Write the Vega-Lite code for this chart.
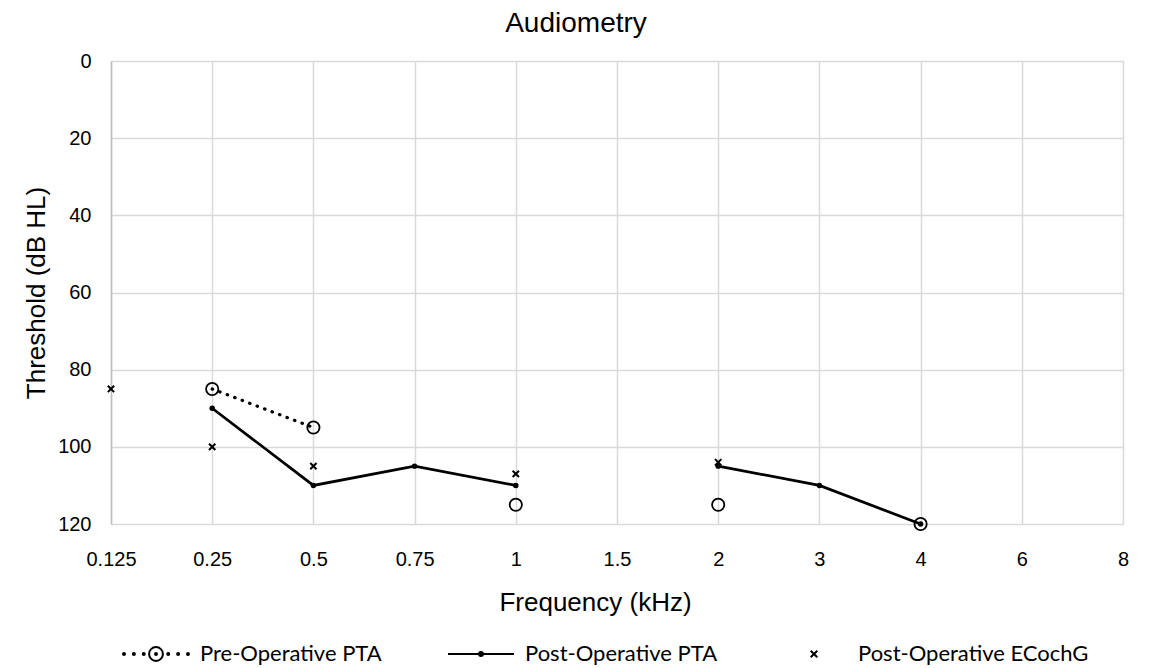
{
  "$schema": "https://vega.github.io/schema/vega-lite/v6.json",
  "width": 1012,
  "height": 463,
  "autosize": {"type": "none"},
  "padding": {"left": 111, "top": 61, "right": 44, "bottom": 144},
  "background": "white",
  "title": {
    "text": "Audiometry",
    "font": "Liberation Sans",
    "fontSize": 28,
    "fontWeight": "normal",
    "color": "black",
    "anchor": "middle",
    "baseline": "alphabetic",
    "dx": -41,
    "offset": -9
  },
  "data": {
    "values": [
      {"series": "Pre-Operative PTA", "freq": "0.25", "db": 85, "seg": "p1"},
      {"series": "Pre-Operative PTA", "freq": "0.5", "db": 95, "seg": "p1"},
      {"series": "Pre-Operative PTA", "freq": "1", "db": 115, "seg": "p2"},
      {"series": "Pre-Operative PTA", "freq": "2", "db": 115, "seg": "p3"},
      {"series": "Pre-Operative PTA", "freq": "4", "db": 120, "seg": "p4"},
      {"series": "Post-Operative PTA", "freq": "0.25", "db": 90, "seg": "q1"},
      {"series": "Post-Operative PTA", "freq": "0.5", "db": 110, "seg": "q1"},
      {"series": "Post-Operative PTA", "freq": "0.75", "db": 105, "seg": "q1"},
      {"series": "Post-Operative PTA", "freq": "1", "db": 110, "seg": "q1"},
      {"series": "Post-Operative PTA", "freq": "2", "db": 105, "seg": "q2"},
      {"series": "Post-Operative PTA", "freq": "3", "db": 110, "seg": "q2"},
      {"series": "Post-Operative PTA", "freq": "4", "db": 120, "seg": "q2"},
      {"series": "Post-Operative ECochG", "freq": "0.125", "db": 85, "seg": "e1"},
      {"series": "Post-Operative ECochG", "freq": "0.25", "db": 100, "seg": "e1"},
      {"series": "Post-Operative ECochG", "freq": "0.5", "db": 105, "seg": "e1"},
      {"series": "Post-Operative ECochG", "freq": "1", "db": 107, "seg": "e1"},
      {"series": "Post-Operative ECochG", "freq": "2", "db": 104, "seg": "e1"}
    ]
  },
  "encoding": {
    "x": {
      "field": "freq",
      "type": "ordinal",
      "scale": {
        "type": "point",
        "padding": 0,
        "domain": ["0.125", "0.25", "0.5", "0.75", "1", "1.5", "2", "3", "4", "6", "8"]
      },
      "axis": {
        "title": "Frequency (kHz)",
        "titleFont": "Liberation Sans",
        "titleFontSize": 26,
        "titleFontWeight": "normal",
        "titleColor": "black",
        "titlePadding": 20,
        "titleX": 484,
        "labelFont": "Liberation Sans",
        "labelFontSize": 20,
        "labelColor": "black",
        "labelAngle": 0,
        "labelPadding": 25,
        "labelDx": 3,
        "ticks": false,
        "tickSize": 0,
        "domain": false,
        "grid": true,
        "gridColor": "#d9d9d9",
        "gridWidth": 1.5
      }
    },
    "y": {
      "field": "db",
      "type": "quantitative",
      "scale": {"domain": [0, 120], "reverse": true, "nice": false, "zero": false},
      "axis": {
        "title": "Threshold (dB HL)",
        "titleFont": "Liberation Sans",
        "titleFontSize": 26,
        "titleFontWeight": "normal",
        "titleColor": "black",
        "titlePadding": 8,
        "values": [0, 20, 40, 60, 80, 100, 120],
        "labelFont": "Liberation Sans",
        "labelFontSize": 20,
        "labelColor": "black",
        "labelPadding": 20,
        "ticks": false,
        "tickSize": 0,
        "domain": true,
        "domainColor": "#bfbfbf",
        "domainWidth": 1.5,
        "grid": true,
        "gridColor": "#d9d9d9",
        "gridWidth": 1.5
      }
    }
  },
  "layer": [
    {
      "transform": [{"filter": "datum.series === 'Post-Operative PTA'"}],
      "mark": {"type": "line", "color": "black", "strokeWidth": 2.75},
      "encoding": {"detail": {"field": "seg"}}
    },
    {
      "transform": [{"filter": "datum.series === 'Post-Operative PTA'"}],
      "mark": {"type": "point", "shape": "circle", "filled": true, "color": "black", "size": 30, "opacity": 1}
    },
    {
      "transform": [{"filter": "datum.series === 'Pre-Operative PTA'"}],
      "mark": {"type": "line", "color": "black", "strokeWidth": 3.2, "strokeDash": [0.5, 7.5], "strokeCap": "round"},
      "encoding": {"detail": {"field": "seg"}}
    },
    {
      "transform": [{"filter": "datum.series === 'Pre-Operative PTA'"}],
      "mark": {"type": "point", "shape": "circle", "filled": false, "color": "black", "size": 150, "strokeWidth": 1.8, "opacity": 1}
    },
    {
      "transform": [{"filter": "datum.series === 'Post-Operative ECochG'"}],
      "mark": {"type": "point", "shape": "M-1,-1L1,1M1,-1L-1,1", "filled": false, "color": "black", "size": 40, "strokeWidth": 2, "opacity": 1}
    },
    {
      "mark": {"type": "point", "filled": false, "color": "black", "opacity": 0, "strokeWidth": 2},
      "encoding": {
        "shape": {
          "field": "series",
          "type": "nominal",
          "scale": {
            "domain": ["Pre-Operative PTA", "Post-Operative PTA", "Post-Operative ECochG"],
            "range": [
              "M-0.97,0.03A0.03,0.03 0 1,1 -0.97,-0.03A0.03,0.03 0 1,1 -0.97,0.03ZM-0.67,0.03A0.03,0.03 0 1,1 -0.67,-0.03A0.03,0.03 0 1,1 -0.67,0.03ZM-0.37,0.03A0.03,0.03 0 1,1 -0.37,-0.03A0.03,0.03 0 1,1 -0.37,0.03ZM0.37,0.03A0.03,0.03 0 1,1 0.37,-0.03A0.03,0.03 0 1,1 0.37,0.03ZM0.67,0.03A0.03,0.03 0 1,1 0.67,-0.03A0.03,0.03 0 1,1 0.67,0.03ZM0.97,0.03A0.03,0.03 0 1,1 0.97,-0.03A0.03,0.03 0 1,1 0.97,0.03ZM0.21,0A0.21,0.21 0 1,1 -0.21,0A0.21,0.21 0 1,1 0.21,0ZM0.03,0A0.03,0.03 0 1,1 -0.03,0A0.03,0.03 0 1,1 0.03,0Z",
              "M-1,0L1,0M0.06,0A0.06,0.06 0 1,1 -0.06,0A0.06,0.06 0 1,1 0.06,0Z",
              "M-0.1,-0.1L0.1,0.1M0.1,-0.1L-0.1,0.1"
            ]
          },
          "legend": {
            "title": null,
            "orient": "none",
            "legendX": 11,
            "legendY": 559,
            "direction": "horizontal",
            "columns": 3,
            "columnPadding": 62,
            "symbolSize": 4356,
            "symbolStrokeWidth": 2,
            "symbolStrokeColor": "black",
            "symbolOpacity": 1,
            "labelFont": "Lato",
            "labelFontSize": 22,
            "labelColor": "black",
            "labelOffset": 10,
            "labelLimit": 400
          }
        }
      }
    }
  ],
  "config": {
    "view": {"stroke": null},
    "legend": {"padding": 0}
  }
}
